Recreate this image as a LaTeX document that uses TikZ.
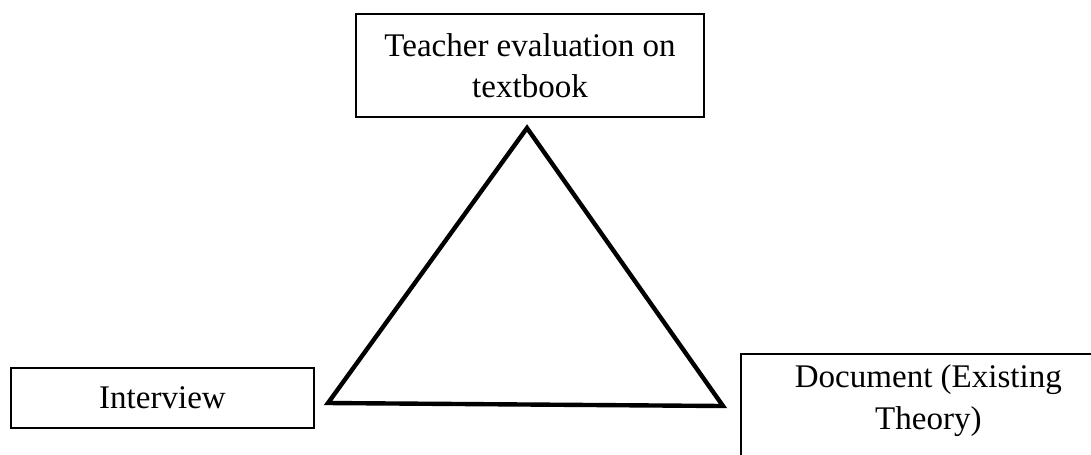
\documentclass[tikz,border=0pt]{standalone}
\usepackage{fontspec}
\setmainfont{Liberation Serif}
\usepackage{tikz}

\begin{document}
\begin{tikzpicture}[x=0.02cm, y=-0.02cm,
  box/.style={draw=black, line width=1pt, align=center, inner sep=0pt,
    font=\fontsize{18.8}{23.5}\selectfont}]

% Area del disegno
\useasboundingbox (0,0) rectangle (1091,454);

% Riquadri
\node[box, minimum width=6.96cm, minimum height=2.06cm] (teacher) at (530,65.5)
  {Teacher evaluation on\\textbook};
\node[box, minimum width=6.06cm, minimum height=1.2cm] (interview) at (162.5,398)
  {Interview};
\node[box, anchor=north west, minimum width=7.5cm, inner ysep=0.22cm,
  text depth=3cm] (document) at (740,353)
  {Document (Existing\\Theory)};

% Triangolo
\coordinate (apex) at (527,128);
\coordinate (left) at (328,403);
\coordinate (right) at (723,406);
\draw[line width=2.5pt, line join=miter] (apex) -- (left) -- (right) -- cycle;
\end{tikzpicture}
\end{document}
